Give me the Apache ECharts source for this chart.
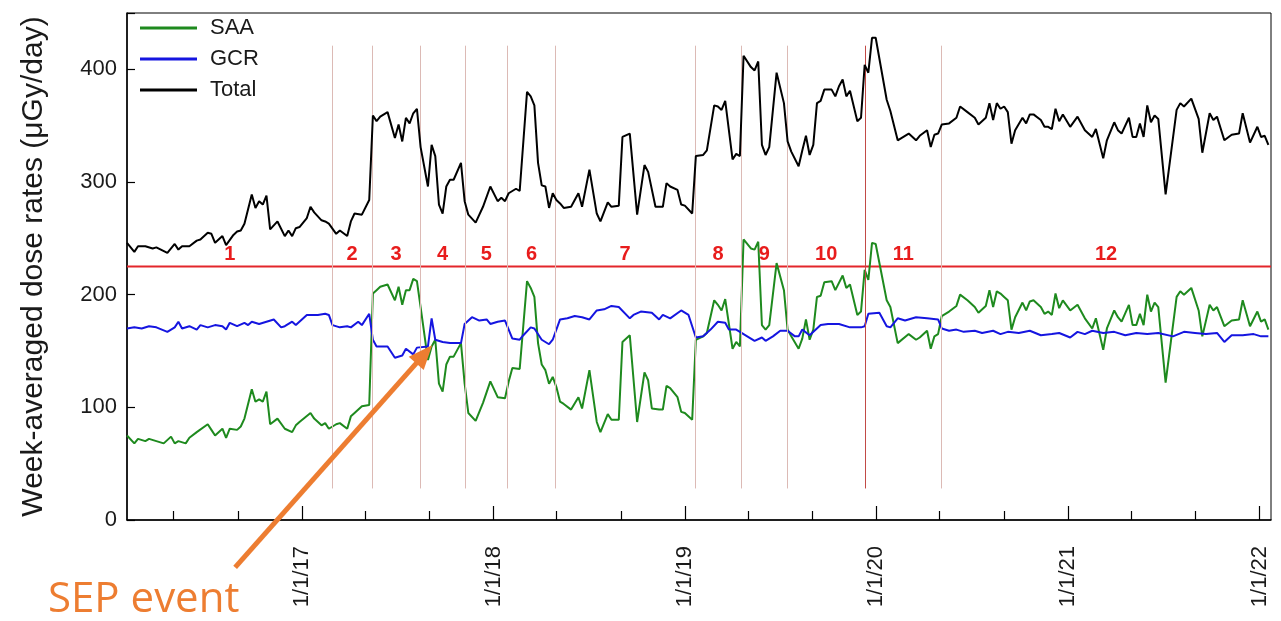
<!DOCTYPE html>
<html><head><meta charset="utf-8">
<script src="https://cdn.jsdelivr.net/npm/echarts@6/dist/echarts.min.js"></script>
<style>html,body{margin:0;padding:0;background:#fff}#c{width:1281px;height:621px}</style>
</head><body><div id="c"></div>
<script>
// ---------- data ----------
const startDate = '2016-02-02';   // week 0 of the weekly series
const endDate = '2022-01-23';
const yearTickDates = ['2017-01-01','2018-01-01','2019-01-01','2020-01-01','2021-01-01','2022-01-01'];
const yearTickLabels = ['1/1/17','1/1/18','1/1/19','1/1/20','1/1/21','1/1/22'];
const minorTickDates = ['2016-05-01','2016-09-01','2017-05-01','2017-09-01','2018-05-01','2018-09-01',
  '2019-05-01','2019-09-01','2020-05-01','2020-09-01','2021-05-01','2021-09-01'];
const periodBounds = ['2017-02-28','2017-05-14','2017-08-14','2017-11-08','2018-01-28','2018-04-29',
  '2019-01-20','2019-04-19','2019-07-15','2019-12-11','2020-05-04'];
const periodNames = ['1','2','3','4','5','6','7','8','9','10','11','12'];
const thresholdValue = 225;
const sepEvent = ['2017-09-06', 155];

// [week index, value]
const saaPts = [[0,75],[2,68],[3,72],[5,70],[6,72],[8,70],[10,68],[12,74],[13,68],[14,70],[16,68],[17,73],[19,78],[22,85],[23,80],[24,75],[26,81],[27,73],[28,81],[30,80],[31,83],[32,90],[34,116],[35,105],[36,107],[37,105],[38,114],[39,85],[41,90],[43,81],[45,78],[46,84],[47,87],[50,95],[51,90],[53,84],[54,86],[55,81],[57,85],[58,86],[60,81],[61,92],[62,95],[64,101],[66,102],[67,201],[68,204],[69,207],[71,209],[73,195],[74,207],[75,191],[76,204],[77,204],[78,214],[79,212],[80,189],[82,142],[83,154],[84,160],[85,121],[86,114],[87,138],[88,145],[89,145],[91,157],[92,121],[93,95],[95,88],[97,104],[99,123],[101,109],[103,108],[104,123],[105,135],[107,134],[109,212],[110,206],[111,198],[112,157],[113,138],[114,133],[115,121],[116,127],[117,118],[118,105],[119,103],[121,98],[123,109],[124,99],[126,133],[128,87],[129,78],[131,94],[132,89],[134,89],[135,158],[137,164],[139,87],[141,131],[142,124],[143,99],[145,98],[146,98],[147,119],[148,117],[150,109],[151,96],[152,95],[154,89],[155,160],[157,163],[158,166],[160,195],[161,191],[162,186],[163,196],[165,152],[166,158],[167,154],[168,249],[170,241],[171,240],[172,247],[173,173],[174,169],[175,173],[177,228],[179,204],[180,169],[181,163],[183,152],[184,161],[185,178],[186,160],[187,169],[188,198],[189,199],[190,211],[192,212],[193,204],[195,217],[196,206],[197,209],[199,182],[200,185],[201,222],[202,213],[203,246],[204,245],[207,195],[208,189],[210,157],[213,165],[215,160],[216,162],[218,168],[219,152],[220,163],[221,165],[222,181],[224,185],[226,190],[227,200],[229,195],[231,189],[232,184],[234,190],[235,204],[236,189],[237,203],[238,201],[239,198],[240,195],[241,169],[242,180],[244,193],[245,186],[246,194],[247,195],[249,189],[250,183],[251,185],[252,182],[253,201],[254,188],[255,195],[257,186],[259,191],[261,179],[263,170],[264,179],[266,151],[267,170],[269,186],[270,180],[271,176],[273,191],[274,173],[275,173],[276,183],[277,173],[278,200],[279,185],[280,193],[281,189],[283,122],[286,198],[287,203],[288,200],[290,206],[292,186],[293,163],[295,191],[296,186],[297,189],[299,172],[301,177],[303,178],[304,195],[306,172],[308,185],[309,176],[310,178],[311,169]];

const gcrPts = [[0,170],[2,171],[4,170],[6,172],[8,171],[11,167],[13,171],[14,176],[15,170],[17,172],[19,169],[20,173],[22,171],[24,173],[26,172],[27,169],[28,175],[30,172],[32,175],[33,173],[34,176],[36,174],[38,176],[40,178],[42,171],[43,172],[45,176],[46,173],[49,182],[52,182],[54,183],[55,182],[56,173],[58,171],[60,172],[61,171],[63,176],[64,173],[66,183],[67,160],[68,154],[71,154],[73,144],[75,146],[76,152],[78,147],[79,153],[82,154],[83,179],[84,160],[86,158],[88,157],[91,157],[92,174],[94,180],[96,177],[98,178],[99,174],[101,176],[103,177],[105,161],[107,160],[108,164],[110,171],[111,170],[113,160],[115,156],[116,160],[118,178],[120,179],[122,181],[124,180],[126,178],[128,186],[130,187],[132,190],[134,189],[137,179],[138,182],[140,185],[143,184],[145,178],[146,182],[148,179],[151,186],[153,182],[155,162],[157,163],[159,169],[161,176],[163,175],[164,169],[166,169],[169,163],[171,159],[173,162],[174,159],[176,163],[178,168],[180,168],[182,163],[183,163],[184,169],[186,164],[189,173],[191,174],[194,174],[197,171],[200,171],[201,172],[202,183],[205,184],[207,172],[208,171],[210,179],[212,177],[215,180],[218,179],[221,178],[222,170],[224,168],[226,169],[228,167],[231,168],[233,166],[236,168],[238,165],[240,167],[243,166],[246,168],[249,164],[252,165],[254,166],[257,162],[259,167],[261,165],[263,168],[266,166],[269,167],[272,164],[275,166],[278,165],[281,166],[285,163],[288,167],[291,166],[294,165],[297,166],[299,158],[301,164],[304,164],[307,165],[309,163],[311,163]];

const totalPts = [[0,246],[2,238],[3,243],[5,243],[7,241],[8,242],[11,237],[13,245],[14,240],[15,243],[17,243],[19,248],[20,249],[22,255],[23,254],[24,246],[26,252],[27,244],[29,253],[30,256],[31,257],[32,263],[34,289],[35,277],[36,283],[37,280],[38,288],[39,258],[41,265],[43,252],[44,257],[45,252],[46,259],[47,260],[49,268],[50,278],[51,273],[53,266],[54,265],[55,263],[57,254],[58,257],[60,252],[61,265],[62,272],[64,271],[66,284],[67,359],[68,354],[69,358],[71,362],[73,339],[74,351],[75,336],[76,357],[77,352],[78,361],[79,365],[80,331],[82,296],[83,333],[84,323],[85,280],[86,272],[87,296],[88,302],[89,302],[91,317],[92,283],[93,271],[95,264],[97,278],[99,296],[101,283],[102,286],[103,283],[104,290],[106,294],[107,292],[109,380],[110,376],[111,368],[112,317],[113,297],[114,296],[115,277],[116,290],[117,284],[118,281],[119,277],[121,278],[123,290],[124,278],[126,311],[128,272],[129,265],[131,282],[132,278],[134,279],[135,340],[137,343],[139,271],[141,315],[142,309],[144,278],[146,278],[147,299],[148,296],[150,293],[151,280],[152,279],[154,272],[155,323],[157,324],[158,328],[160,368],[161,367],[162,364],[163,372],[165,320],[166,325],[167,323],[168,412],[170,402],[171,399],[172,407],[173,333],[174,324],[175,331],[177,397],[179,370],[180,336],[181,327],[183,314],[184,328],[185,341],[186,324],[187,333],[188,370],[189,372],[190,382],[192,382],[193,376],[194,385],[195,391],[196,376],[197,381],[199,354],[200,357],[201,404],[202,397],[203,428],[204,428],[207,373],[208,363],[210,337],[213,343],[215,337],[216,341],[218,346],[219,331],[220,342],[221,343],[222,351],[224,352],[226,357],[227,367],[229,362],[231,357],[232,351],[234,357],[235,370],[236,355],[237,370],[238,365],[239,367],[240,362],[241,334],[242,346],[244,357],[245,352],[246,360],[247,360],[249,355],[250,349],[251,349],[252,347],[253,365],[254,354],[255,360],[257,349],[259,358],[261,346],[263,340],[264,347],[266,321],[267,337],[269,353],[270,346],[271,343],[273,357],[274,340],[275,340],[276,352],[277,340],[278,368],[279,353],[280,359],[281,356],[283,289],[286,364],[287,370],[288,367],[290,374],[292,356],[293,326],[295,361],[296,355],[297,358],[299,337],[301,342],[303,343],[304,361],[306,335],[308,349],[309,340],[310,341],[311,333]];

// ---------- build ----------
const DAY = 86400000;
const T = s => Date.parse(s + 'T00:00:00Z');
const t0 = T(startDate), tEnd = T(endDate);
const wk = w => t0 + w * 7 * DAY;
const toSeries = pts => pts.map(p => [wk(p[0]), p[1]]);
const yearT = yearTickDates.map(T);
const minorT = minorTickDates.map(T);
const boundsT = periodBounds.map(T);
const edges = [t0].concat(boundsT, [tEnd]);
const labelPts = periodNames.map((n, i) => [(edges[i] + edges[i + 1]) / 2, 236, n]);

const FONT = '"Liberation Sans", Arial, sans-serif';
const chart = echarts.init(document.getElementById('c'), null, {renderer: 'canvas'});
const option = {
  animation: false,
  backgroundColor: '#fff',
  textStyle: {fontFamily: FONT},
  grid: {left: 127, right: 10, top: 13, bottom: 101, show: true, borderColor: '#000', borderWidth: 1},
  legend: {
    data: ['SAA', 'GCR', 'Total'], orient: 'vertical', left: 140, top: 17, padding: 0,
    icon: 'rect', itemWidth: 57, itemHeight: 3, itemGap: 9,
    textStyle: {fontFamily: FONT, fontSize: 22, lineHeight: 22, color: '#1a1a1a', padding: [0, 0, 0, 8]}
  },
  xAxis: [{
    type: 'value', min: t0, max: tEnd, position: 'bottom', scale: true,
    axisLine: {show: true, onZero: false, lineStyle: {color: '#000', width: 1.5}},
    axisTick: {show: true, inside: true, length: 14, customValues: yearT, lineStyle: {color: '#000', width: 1.2}},
    axisLabel: {show: true, rotate: 90, margin: 26, fontSize: 22, color: '#1a1a1a', fontFamily: FONT,
      customValues: yearT, formatter: v => yearTickLabels[yearT.indexOf(v)] || ''},
    splitLine: {show: false}
  }, {
    type: 'value', min: t0, max: tEnd, position: 'bottom', scale: true,
    axisLine: {show: false, onZero: false},
    axisTick: {show: true, inside: true, length: 9, customValues: minorT, lineStyle: {color: '#000', width: 1.2}},
    axisLabel: {show: false}, splitLine: {show: false}
  }],
  yAxis: {
    type: 'value', min: 0, max: 450, interval: 100,
    name: 'Week-averaged dose rates (μGy/day)', nameLocation: 'middle', nameGap: 78,
    nameTextStyle: {fontSize: 30, color: '#1a1a1a', fontFamily: FONT},
    axisLine: {show: true, lineStyle: {color: '#000', width: 1.5}},
    axisTick: {show: true, inside: true, length: 8, lineStyle: {color: '#000', width: 1.2}},
    axisLabel: {fontSize: 22, color: '#1a1a1a', margin: 10, fontFamily: FONT,
      formatter: v => (v > 400 ? '' : String(v))},
    splitLine: {show: false}
  },
  series: [{
    name: 'threshold', type: 'line', data: [[t0, thresholdValue], [tEnd, thresholdValue]],
    symbol: 'none', silent: true, z: 1,
    lineStyle: {color: '#e3262b', width: 2},
    markLine: {
      silent: true, symbol: ['none', 'none'], label: {show: false},
      data: boundsT.map((t, i) => [
        {coord: [t, 28], lineStyle: {color: i === 9 ? '#c24a46' : '#dcbab5', width: 1, type: 'solid'}},
        {coord: [t, 421]}
      ])
    }
  }, {
    name: 'SAA', type: 'line', data: toSeries(saaPts), symbol: 'none', z: 3,
    color: '#1e8a1e', lineStyle: {color: '#1e8a1e', width: 2}
  }, {
    name: 'GCR', type: 'line', data: toSeries(gcrPts), symbol: 'none', z: 4,
    color: '#1515e0', lineStyle: {color: '#1515e0', width: 2}
  }, {
    name: 'Total', type: 'line', data: toSeries(totalPts), symbol: 'none', z: 5,
    color: '#000', lineStyle: {color: '#000', width: 2}
  }, {
    name: 'periods', type: 'scatter', data: labelPts, symbol: 'rect', symbolSize: 1, silent: true, z: 6,
    itemStyle: {color: '#ffffff', opacity: 1},
    labelLayout: {hideOverlap: false},
    label: {show: true, position: 'inside', formatter: p => p.data[2], opacity: 1,
      textBorderWidth: 0, fontSize: 20, fontWeight: 'bold', color: '#e81c1c', fontFamily: FONT}
  }]
};
chart.setOption(option);

// SEP event annotation anchored to data coordinates
const tip = chart.convertToPixel({xAxisIndex: 0, yAxisIndex: 0}, [T(sepEvent[0]), sepEvent[1]]);
const st = [tip[0] - 197, tip[1] + 222];
const dx = tip[0] - st[0], dy = tip[1] - st[1], L = Math.hypot(dx, dy);
const ux = dx / L, uy = dy / L, px = -uy, py = ux;
const headLen = 24, headW = 10;
const base = [tip[0] - ux * headLen, tip[1] - uy * headLen];
chart.setOption({
  graphic: [
    {type: 'line', z: 100, shape: {x1: st[0], y1: st[1], x2: base[0] + ux * 2, y2: base[1] + uy * 2},
      style: {stroke: '#ED7D31', lineWidth: 5}},
    {type: 'polygon', z: 100, shape: {points: [tip, [base[0] + px * headW, base[1] + py * headW], [base[0] - px * headW, base[1] - py * headW]]},
      style: {fill: '#ED7D31'}},
    {type: 'text', z: 100, left: 48, top: 579,
      style: {text: 'SEP event', fill: '#ED7D31', font: '42px "Open Sans", sans-serif'}}
  ]
});
</script>
</body></html>
